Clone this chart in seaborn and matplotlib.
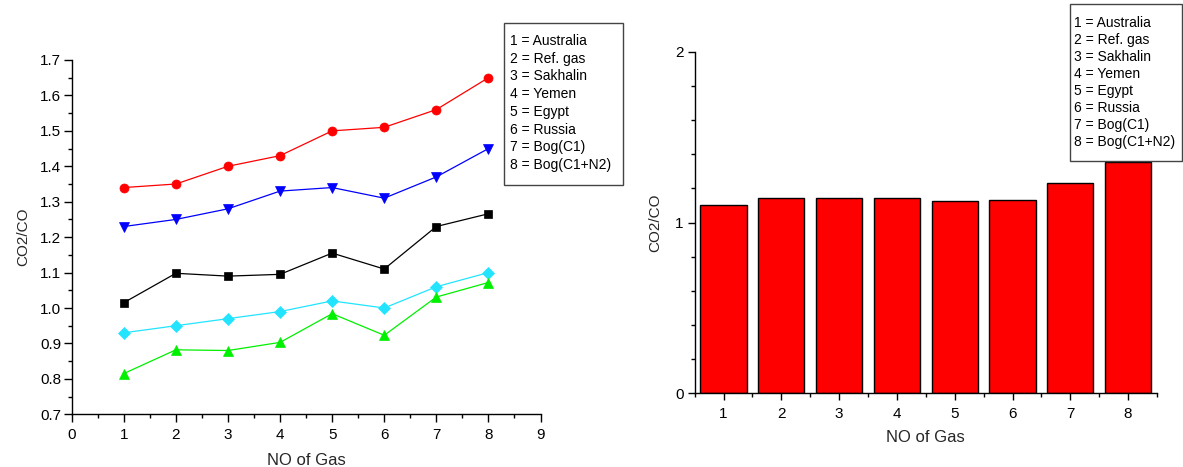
import numpy as np
import pandas as pd
import matplotlib
matplotlib.use("Agg")
import matplotlib.pyplot as plt
import seaborn as sns
from matplotlib.ticker import MultipleLocator, FixedLocator
from matplotlib.patches import Rectangle

# ---------------- data ----------------
gas_no = [1, 2, 3, 4, 5, 6, 7, 8]
gas_names = ["Australia", "Ref. gas", "Sakhalin", "Yemen", "Egypt", "Russia",
             "Bog(C1)", "Bog(C1+N2)"]

red_series = [1.34, 1.35, 1.40, 1.43, 1.50, 1.51, 1.56, 1.65]
blue_series = [1.23, 1.25, 1.28, 1.33, 1.34, 1.31, 1.37, 1.45]
black_series = [1.015, 1.098, 1.09, 1.095, 1.155, 1.11, 1.23, 1.266]
cyan_series = [0.93, 0.95, 0.97, 0.99, 1.02, 1.00, 1.06, 1.10]
green_series = [0.815, 0.882, 0.88, 0.903, 0.984, 0.923, 1.031, 1.072]

bar_values = [1.10, 1.143, 1.143, 1.143, 1.124, 1.131, 1.232, 1.352]

legend_lines = [f"{n} = {name}" for n, name in zip(gas_no, gas_names)]

# ---------------- style ----------------
sns.set_style("ticks")
plt.rcParams["font.family"] = ["Liberation Sans", "DejaVu Sans"]
plt.rcParams["axes.linewidth"] = 1.0

W, H = 1183, 467
fig = plt.figure(figsize=(W / 100, H / 100), dpi=100)

def px_axes(x0, x1, ytop, ybot):
    return fig.add_axes([x0 / W, 1 - ybot / H, (x1 - x0) / W, (ybot - ytop) / H])

# ---------------- left: line chart ----------------
ax1 = px_axes(71.7, 540.5, 60.0, 414.3)
series = [
    (red_series, "#FF0000", "o"),
    (blue_series, "#0000FF", "v"),
    (black_series, "#000000", "s"),
    (cyan_series, "#22E4FF", "D"),
    (green_series, "#00F000", "^"),
]
for vals, col, mk in series:
    df = pd.DataFrame({"gas": gas_no, "ratio": vals})
    sns.lineplot(data=df, x="gas", y="ratio", ax=ax1, color=col, marker=mk,
                 markersize=6.5 if mk not in ("D", "s") else 6,
                 markeredgewidth=0.5, markeredgecolor=col, linewidth=0.9,
                 legend=False)

ax1.set_xlim(0, 9)
ax1.set_ylim(0.7, 1.7)
ax1.xaxis.set_major_locator(MultipleLocator(1))
ax1.xaxis.set_minor_locator(MultipleLocator(0.5))
ax1.yaxis.set_major_locator(MultipleLocator(0.1))
ax1.yaxis.set_minor_locator(MultipleLocator(0.05))
ax1.set_yticklabels([f"{v:.1f}" for v in ax1.get_yticks()])
sns.despine(ax=ax1)
ax1.tick_params(axis="both", which="major", direction="out", length=6, width=1,
                labelsize=11, color="black", labelcolor="black")
ax1.tick_params(axis="both", which="minor", direction="out", length=3, width=1,
                color="black")
ax1.tick_params(axis="x", which="major", pad=4)
ax1.tick_params(axis="y", which="major", pad=1.5)
ax1.set_ylim(0.7, 1.7)
ax1.set_xlabel("NO of Gas", fontsize=12, labelpad=8)
ax1.set_ylabel("CO2/CO", fontsize=11, labelpad=7)
for s in ax1.spines.values():
    s.set_color("black")

# ---------------- right: bar chart ----------------
ax2 = px_axes(694.7, 1157.0, 51.7, 393.3)
bdf = pd.DataFrame({"gas": [str(g) for g in gas_no], "ratio": bar_values})
sns.barplot(data=bdf, x="gas", y="ratio", ax=ax2, color="#FF0000",
            saturation=1, width=0.8, edgecolor="black", linewidth=1.0)
ax2.set_xlim(-0.5, len(gas_no) - 0.5)
ax2.set_ylim(0, 2)
ax2.yaxis.set_major_locator(MultipleLocator(1))
ax2.yaxis.set_minor_locator(MultipleLocator(0.2))
ax2.xaxis.set_minor_locator(FixedLocator(np.arange(-0.5, len(gas_no), 1.0)))
sns.despine(ax=ax2)
ax2.tick_params(axis="both", which="major", direction="out", length=5, width=1,
                labelsize=11, color="black", labelcolor="black")
ax2.tick_params(axis="both", which="minor", direction="out", length=3, width=1,
                color="black")
ax2.tick_params(axis="x", which="major", pad=5)
ax2.tick_params(axis="y", which="major", pad=3)
ax2.set_xlabel("NO of Gas", fontsize=12, labelpad=6)
ax2.set_ylabel("CO2/CO", fontsize=11, labelpad=9)
for s in ax2.spines.values():
    s.set_color("black")

# ---------------- text legends ----------------
def text_legend(x0, x1, ytop, ybot, tx, first_y, step):
    fig.patches.append(Rectangle((x0 / W, 1 - ybot / H), (x1 - x0) / W,
                                 (ybot - ytop) / H, transform=fig.transFigure,
                                 facecolor="white", edgecolor="#444444",
                                 linewidth=1.0, zorder=5))
    for i, line in enumerate(legend_lines):
        fig.text(tx / W, 1 - (first_y + i * step) / H, line, fontsize=10,
                 ha="left", va="center", color="black", zorder=6)

text_legend(504.0, 623.3, 23.3, 185.0, 510.0, 41.0, 17.7)
text_legend(1069.7, 1182.0, 4.3, 160.7, 1074.0, 23.3, 16.9)

fig.savefig("out.png", dpi=100, facecolor="white")
